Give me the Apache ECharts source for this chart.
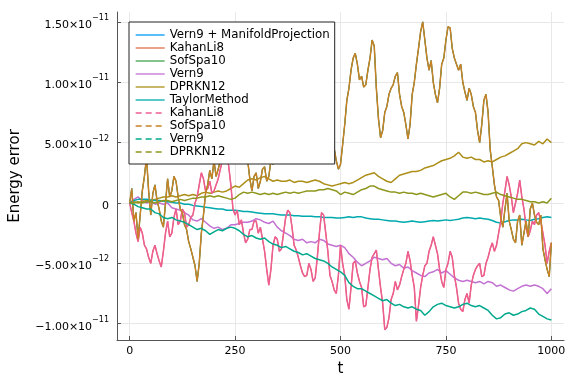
<!DOCTYPE html>
<html>
<head>
<meta charset="utf-8">
<script src="https://cdn.jsdelivr.net/npm/echarts@6/dist/echarts.min.js"></script>
<style>
html,body{margin:0;padding:0;background:#fff;}
#chart{width:576px;height:384px;}
</style>
</head>
<body>
<div id="chart"></div>
<script>
// coarse time grid (drifting solutions)
var tVals = [0,10,20,30,40,50,60,70,80,90,100,110,120,130,140,150,160,170,180,190,200,210,220,230,240,250,260,270,280,290,300,310,320,330,340,350,360,370,380,390,400,410,420,430,440,450,460,470,480,490,500,510,520,530,540,550,560,570,580,590,600,610,620,630,640,650,660,670,680,690,700,710,720,730,740,750,760,770,780,790,800,810,820,830,840,850,860,870,880,890,900,910,920,930,940,950,960,970,980,990,1000];

// fine time grid (random-walk solutions)
var tFine = [0,5,10,15,20,25,30,35,40,45,50,55,60,65,70,75,80,85,90,95,
 100,105,110,115,120,125,130,135,140,145,150,155,160,165,170,175,180,185,190,195,
 200,205,210,215,220,225,230,235,240,245,250,255,260,265,270,275,280,285,290,295,
 300,305,310,315,320,325,330,335,340,345,350,355,360,365,370,375,380,385,390,395,
 400,405,410,415,420,425,430,435,440,445,450,455,460,465,470,475,480,485,490,495,
 500,505,510,515,520,525,530,535,540,545,550,555,560,565,570,575,580,585,590,595,
 600,605,610,615,620,625,630,635,640,645,650,655,660,665,670,675,680,685,690,695,
 700,705,710,715,720,725,730,735,740,745,750,755,760,765,770,775,780,785,790,795,
 800,805,810,815,820,825,830,835,840,845,850,855,860,865,870,875,880,885,890,895,
 900,905,910,915,920,925,930,935,940,945,950,955,960,965,970,975,980,985,990,995,
 1000];

// energy error values, in units of 1e-12
var sofSpa10 = [0,1.2,-1.5,-0.8,-3.0,-1.0,1.0,2.2,3.8,1.0,-1.0,0.8,1.5,0.2,-0.5,-1.5,-2.0,0.0,2.0,0.5,
 1.0,2.2,1.8,0.5,-0.5,-0.8,-1.8,-2.2,-3.2,-3.8,-4.5,-5.2,-6.5,-5.0,-2.5,-1.0,0.8,1.5,2.7,2.0,
 3.5,2.2,2.8,3.5,3.8,4.5,5.5,6.5,6.5,7.2,6.0,5.5,5.0,5.8,4.5,4.0,3.5,2.0,1.0,2.2,
 2.5,1.2,1.8,2.8,3.0,1.8,2.2,3.5,3.2,3.8,4.5,5.2,6.0,6.8,7.0,6.0,6.5,7.5,8.0,7.0,
 7.5,7.8,6.8,7.5,8.2,7.8,7.0,6.5,6.2,7.0,7.5,7.0,6.5,6.0,5.8,6.2,5.5,4.5,3.5,2.8,
 3.2,4.8,6.5,8.5,9.5,11.0,12.0,12.4,11.5,10.2,10.5,9.6,9.8,11.0,12.0,13.5,13.0,9.5,7.0,5.4,
 6.0,7.5,8.0,9.0,9.5,9.8,10.5,10.8,9.0,8.0,7.5,6.5,5.3,6.5,9.0,10.0,11.5,12.8,14.2,15.0,
 13.5,12.0,11.0,11.8,10.0,9.0,8.3,9.5,11.5,12.0,13.5,14.6,14.5,12.8,12.0,11.5,11.0,11.5,10.0,9.2,
 8.5,9.5,9.0,8.0,7.5,6.0,5.0,6.5,8.5,9.0,7.5,4.4,3.0,1.5,0.5,0.2,-1.2,-2.0,-0.5,0.8,
 -1.5,-2.2,-3.0,-3.3,-1.5,-1.0,-3.5,-2.5,-1.5,-2.8,-0.5,0.0,-1.0,-1.6,-1.8,-1.0,-3.8,-4.7,-5.5,-6.1,
 -3.3];

var kahanLi8 = [0,-0.8,-1.5,-2.5,-3.2,-2.0,-2.5,-3.5,-3.8,-4.5,-5.0,-4.0,-3.5,-4.2,-4.8,-5.3,-4.0,-2.5,-1.5,-2.8,
 -2.5,-1.2,-0.5,-1.8,-1.5,-0.5,-0.8,-2.0,-1.8,-1.2,-1.0,0.0,0.5,1.5,2.5,2.0,1.0,1.2,1.8,0.8,
 1.0,1.5,2.0,2.8,3.5,4.8,4.5,3.0,1.5,-0.5,-1.0,-0.6,-1.8,-1.4,-2.5,-3.3,-3.0,-2.2,-2.2,-1.5,
 -1.5,-2.5,-2.0,-3.0,-4.0,-5.5,-6.8,-5.5,-3.5,-2.8,-3.0,-4.0,-3.8,-2.5,-1.2,-0.6,-0.8,-2.0,-3.5,-3.9,
 -4.5,-5.2,-5.8,-6.1,-6.0,-5.0,-5.5,-6.5,-6.2,-4.5,-2.5,-0.8,-1.0,-2.5,-4.0,-6.0,-6.5,-7.2,-7.5,-6.0,
 -3.5,-5.0,-6.0,-8.0,-8.8,-7.0,-5.0,-4.8,-5.8,-6.5,-7.0,-8.6,-8.5,-7.0,-5.5,-4.5,-4.2,-3.9,-5.5,-7.0,
 -8.3,-10.5,-10.3,-9.5,-8.0,-7.5,-6.5,-7.2,-6.8,-6.1,-5.5,-5.0,-4.0,-4.8,-6.0,-7.0,-9.8,-8.5,-7.0,-6.0,
 -5.2,-5.0,-4.0,-3.5,-2.8,-3.5,-4.2,-5.5,-6.5,-7.0,-5.5,-5.0,-4.0,-4.5,-6.0,-7.0,-8.3,-8.8,-9.0,-8.0,
 -7.5,-8.3,-6.8,-6.0,-5.5,-5.2,-5.0,-6.1,-6.0,-5.0,-4.5,-3.8,-3.3,-4.0,-3.5,-2.5,-1.5,0.0,1.0,2.2,
 1.5,0.5,-0.8,0.0,0.8,1.9,0.5,-0.5,-2.0,-2.8,-2.3,-1.5,-1.8,-1.0,-0.8,-1.5,-2.5,-3.5,-5.0,-4.0,
 -3.3];

var vern9 = [0,0.3,0.5,0.2,0.0,0.1,-0.1,0.0,-0.1,0.0,
 -0.4,-0.5,-0.6,-0.8,-1.0,-1.4,-1.5,-1.3,-1.6,-1.9,
 -2.1,-2.0,-2.2,-2.1,-1.8,-1.8,-1.7,-1.6,-1.6,-1.5,
 -1.3,-1.4,-1.6,-1.7,-1.5,-2.0,-2.3,-2.5,-2.7,-3.0,
 -3.1,-3.0,-3.3,-3.2,-3.3,-3.0,-3.1,-3.4,-3.5,-3.6,
 -3.5,-3.7,-4.2,-4.5,-4.9,-5.2,-5.0,-4.8,-4.5,-4.6,
 -4.7,-4.6,-5.0,-5.2,-5.1,-5.4,-5.3,-5.6,-5.8,-6.0,
 -6.1,-5.8,-5.7,-5.5,-5.8,-5.6,-5.9,-6.2,-6.4,-6.5,
 -6.4,-6.5,-6.6,-6.5,-6.7,-6.5,-6.6,-6.9,-6.8,-7.0,
 -7.2,-7.3,-7.1,-6.9,-6.8,-6.9,-6.8,-6.9,-7.1,-7.5,
 -7.1];

var dprkn12 = [0,0.1,0.0,0.1,0.2,0.2,0.3,0.4,0.5,0.5,
 0.6,0.5,0.6,0.7,0.6,0.7,0.6,0.8,0.9,0.8,
 0.9,1.0,0.9,1.0,1.2,1.4,1.3,1.6,1.9,2.0,
 1.9,2.1,2.2,2.0,1.8,1.9,1.8,1.8,1.9,1.7,
 1.8,1.8,1.7,1.8,1.9,1.8,1.6,1.5,1.4,1.5,
 1.6,1.7,1.6,1.7,1.9,2.1,2.3,2.4,2.5,2.2,
 2.0,1.8,1.7,2.0,2.3,2.4,2.5,2.6,2.6,2.7,
 2.9,3.0,3.1,3.3,3.5,3.6,3.7,3.9,4.2,3.8,
 3.7,3.8,3.6,3.6,3.4,3.5,3.4,3.6,3.8,3.9,
 4.1,4.3,4.5,4.9,5.0,4.9,4.8,5.1,4.9,5.3,
 5.0];

var taylor = [0,0.2,0.3,0.3,0.3,0.25,0.2,0.2,0.15,0.1,
 0.05,0.0,0.0,-0.1,-0.1,-0.2,-0.25,-0.3,-0.35,-0.4,
 -0.45,-0.5,-0.5,-0.6,-0.6,-0.6,-0.65,-0.7,-0.7,-0.75,
 -0.8,-0.85,-0.9,-0.9,-0.9,-0.95,-1.0,-1.0,-1.0,-1.05,
 -1.05,-1.1,-1.1,-1.1,-1.15,-1.15,-1.2,-1.2,-1.2,-1.25,
 -1.25,-1.2,-1.15,-1.2,-1.15,-1.15,-1.25,-1.3,-1.35,-1.35,
 -1.4,-1.45,-1.5,-1.5,-1.55,-1.6,-1.55,-1.5,-1.55,-1.6,
 -1.55,-1.5,-1.45,-1.5,-1.45,-1.4,-1.45,-1.4,-1.35,-1.25,
 -1.2,-1.25,-1.3,-1.25,-1.3,-1.35,-1.45,-1.6,-1.65,-1.55,
 -1.45,-1.4,-1.4,-1.35,-1.4,-1.45,-1.35,-1.3,-1.2,-1.15,
 -1.2];

var vern9b = [0,-0.1,-0.3,-0.4,-0.5,-0.5,-0.8,-0.9,-1.2,-1.3,
 -1.2,-1.4,-1.5,-1.6,-1.8,-2.0,-2.2,-2.1,-2.3,-2.6,
 -2.4,-2.2,-2.3,-2.1,-2.0,-2.1,-2.3,-2.6,-2.8,-2.7,
 -2.9,-3.0,-2.9,-3.2,-3.4,-3.5,-3.7,-3.6,-3.8,-4.0,
 -4.1,-4.3,-4.2,-4.4,-4.6,-4.7,-4.8,-5.0,-5.3,-5.5,
 -5.7,-6.0,-6.6,-6.9,-7.1,-7.1,-7.3,-7.5,-7.7,-7.9,
 -8.1,-8.0,-8.3,-8.5,-8.4,-8.6,-8.7,-8.6,-8.8,-8.9,
 -9.3,-9.0,-8.6,-8.4,-8.3,-8.5,-8.6,-8.7,-8.6,-8.4,
 -8.3,-8.5,-8.6,-8.5,-8.7,-8.9,-9.3,-9.6,-9.5,-9.2,
 -9.1,-9.3,-9.2,-9.0,-8.9,-8.7,-8.8,-9.2,-9.4,-9.6,
 -9.7];

var dprkn12b = [0,0.0,0.1,0.0,0.1,0.1,0.0,0.1,0.2,0.2,
 0.1,0.2,0.3,0.2,0.3,0.4,0.4,0.5,0.5,0.6,
 0.5,0.6,0.5,0.4,0.3,0.4,0.7,0.9,0.8,0.9,
 0.8,0.7,0.8,0.7,0.8,0.7,0.8,0.9,0.8,0.9,
 0.8,0.9,1.0,1.0,1.0,1.1,1.1,1.2,1.1,1.0,
 0.7,0.9,0.8,0.7,0.9,1.1,1.2,1.4,1.4,1.2,
 1.1,1.0,0.9,0.9,0.8,0.9,0.8,0.8,0.7,0.8,
 0.7,0.6,0.5,0.6,0.7,0.8,0.5,0.3,0.6,0.9,
 0.9,0.8,0.9,0.8,0.7,0.7,0.8,0.9,0.7,0.6,
 0.5,0.4,0.3,0.3,0.2,0.1,0.1,0.0,0.1,0.0,
 0.4];

// the projected Vern9 run is fully hidden beneath the SofSpa10 curves
var vern9Proj = sofSpa10;

var seriesNames = ['Vern9 + ManifoldProjection','KahanLi8','SofSpa10','Vern9','DPRKN12','TaylorMethod','KahanLi8 ','SofSpa10 ','Vern9 ','DPRKN12 '];
var seriesData = [vern9Proj, kahanLi8, sofSpa10, vern9, dprkn12, taylor, kahanLi8, sofSpa10, vern9b, dprkn12b];
var seriesTimes = [tFine, tFine, tFine, tVals, tVals, tVals, tFine, tFine, tVals, tVals];
var seriesColors = ['#009AFA','#E36F47','#3EA44E','#C371D2','#AC8E18','#00A9AD','#ED5E93','#C68225','#00A98D','#8E971D'];
var seriesWidths = [1.0,1.1,1.1,1.5,1.5,1.5,1.5,1.5,1.5,1.5];
var seriesDashed = [false,false,false,false,false,false,true,true,true,true];

var xTicks = [0,250,500,750,1000];
var yTicks = [-10,-5,0,5,10,15];
var yMant = ['\u22121.00','\u22125.00','0','5.00','1.00','1.50'];
var yExp = ['\u221211','\u221212','','\u221212','\u221211','\u221211'];

var chart = echarts.init(document.getElementById('chart'), null, {renderer:'canvas'});

var series = seriesNames.map(function(n, i){
  var ts = seriesTimes[i];
  return {
    name: n,
    type: 'line',
    symbol: 'none',
    showSymbol: false,
    color: seriesColors[i],
    lineStyle: {color: seriesColors[i], width: seriesWidths[i]},
    data: ts.map(function(t, k){ return [t, seriesData[i][k]]; }),
    animation: false
  };
});

var legendData = seriesNames.map(function(n, i){
  var d = {name: n, itemStyle: {opacity: 0}, lineStyle: {width: 1.3}};
  if (seriesDashed[i]) d.lineStyle.type = [6,4];
  return d;
});

var axisCol = '#555555';
var gridCol = '#e8e8e8';

chart.setOption({
  animation: false,
  backgroundColor: '#ffffff',
  textStyle: {fontFamily: 'DejaVu Sans'},
  grid: {left: 115, right: 12, top: 12, bottom: 44, containLabel: false},
  legend: {
    orient: 'vertical',
    left: 129, top: 22,
    padding: [7, 5, 6, 6],
    itemWidth: 29, itemHeight: 12, itemGap: 1,
    backgroundColor: '#ffffff',
    borderColor: '#222222', borderWidth: 1,
    itemStyle: {opacity: 0},
    textStyle: {fontFamily: 'DejaVu Sans', fontSize: 11.8, color: '#000', lineHeight: 12},
    data: legendData,
    selectedMode: false
  },
  xAxis: {
    type: 'value',
    min: -30, max: 1030,
    name: 't', nameLocation: 'middle', nameGap: 15,
    nameTextStyle: {fontFamily: 'DejaVu Sans', fontSize: 15, color: '#000'},
    axisLine: {show: true, onZero: false, lineStyle: {color: axisCol, width: 1}},
    axisTick: {show: true, inside: true, length: 4, customValues: xTicks, lineStyle: {color: axisCol}},
    axisLabel: {customValues: xTicks, margin: 6, fontSize: 11, color: '#000', fontFamily: 'DejaVu Sans',
      formatter: function(v){ return String(Math.round(v)); }},
    splitLine: {show: true, lineStyle: {color: gridCol, width: 1}}
  },
  yAxis: {
    type: 'value',
    min: -11.35, max: 15.82,
    name: 'Energy error', nameLocation: 'middle', nameGap: 94,
    nameTextStyle: {fontFamily: 'DejaVu Sans', fontSize: 15, color: '#000'},
    axisLine: {show: true, onZero: false, lineStyle: {color: axisCol, width: 1}},
    axisTick: {show: true, inside: true, length: 4, customValues: yTicks, lineStyle: {color: axisCol}},
    axisLabel: {
      customValues: yTicks, margin: 8, fontFamily: 'DejaVu Sans',
      formatter: function(v){
        for (var i = 0; i < yTicks.length; i++) {
          if (Math.abs(yTicks[i] - v) < 1e-9) {
            if (yExp[i] === '') return '{m|' + yMant[i] + '}';
            return '{m|' + yMant[i] + '\u00d710}{s|' + yExp[i] + '}';
          }
        }
        return '';
      },
      rich: {
        m: {fontSize: 11, color: '#000', fontFamily: 'DejaVu Sans', padding: [6,0,0,0]},
        s: {fontSize: 8, color: '#000', fontFamily: 'DejaVu Sans', padding: [0,0,8,0]}
      }
    },
    splitLine: {show: true, lineStyle: {color: gridCol, width: 1}}
  },
  series: series
});
</script>
</body>
</html>
